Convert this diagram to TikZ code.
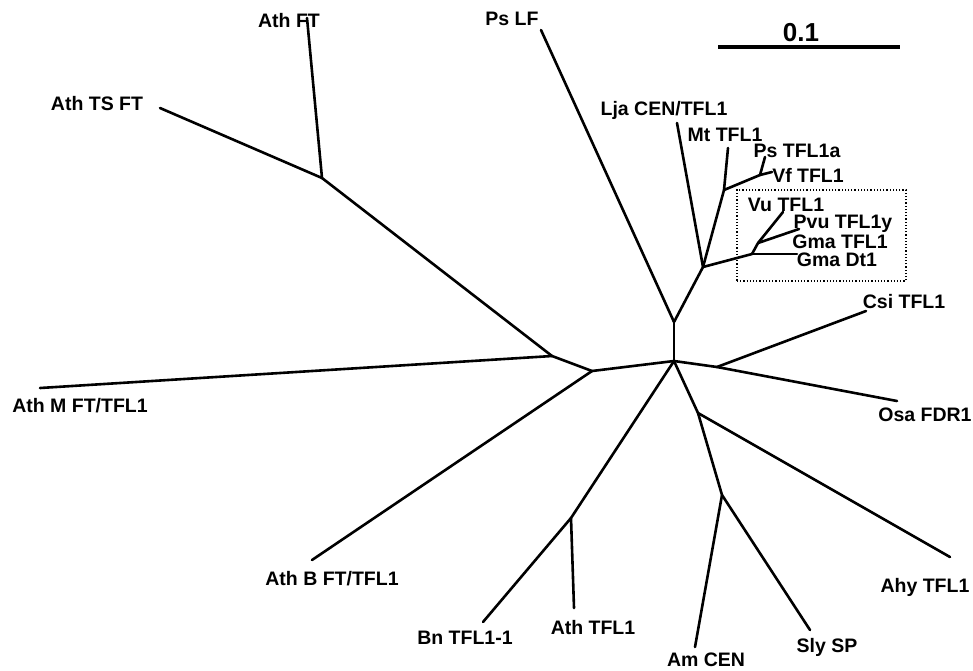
\documentclass[tikz,border=0pt]{standalone}
\usepackage{fontspec}
\setmainfont{Liberation Sans}
\begin{document}
\begin{tikzpicture}[x=1pt,y=-1pt,
  branch/.style={line width=2.6pt,line cap=round,line join=round},
  lbl/.style={font=\fontsize{19.5}{20}\selectfont\bfseries,anchor=base,inner sep=0pt},
  scalelbl/.style={font=\fontsize{26}{28}\selectfont\bfseries,anchor=base,inner sep=0pt},
  scalebar/.style={line width=3.2pt},
  clade/.style={line width=1.2pt,dotted}]
\useasboundingbox (0,0) rectangle (973,670);
% internal points
\coordinate (T) at (674,322);
\coordinate (D) at (674,361);
\coordinate (A) at (703,267);
\coordinate (M1) at (724,190);
\coordinate (N1) at (760,175);
\coordinate (B) at (752,254);
\coordinate (C) at (758,243);
\coordinate (E) at (717,367);
\coordinate (H) at (698,413);
\coordinate (I) at (722,495);
\coordinate (G) at (571,518);
\coordinate (F) at (592,371);
\coordinate (J) at (552,356);
\coordinate (K) at (322,178);
% leaves
\coordinate (lPsLF) at (541,30);
\coordinate (lLja) at (677,123);
\coordinate (lMt) at (728,148);
\coordinate (lPsT) at (765,157);
\coordinate (lVf) at (772,172);
\coordinate (lGma) at (797,254);
\coordinate (lVu) at (783,212);
\coordinate (lPvu) at (799,229);
\coordinate (lCsi) at (866,311);
\coordinate (lOsa) at (897,401);
\coordinate (lAhy) at (950,557);
\coordinate (lAm) at (695,647);
\coordinate (lSly) at (810,630);
\coordinate (lBn) at (483,622);
\coordinate (lAthT) at (574,608);
\coordinate (lAthB) at (312,560);
\coordinate (lAthM) at (40,388);
\coordinate (lAthFT) at (307,18);
\coordinate (lAthTS) at (160,108);
% branches
\draw[branch] (T) -- (D);
\draw[branch] (T) -- (lPsLF);
\draw[branch] (T) -- (A);
\draw[branch] (A) -- (lLja);
\draw[branch] (A) -- (M1);
\draw[branch] (M1) -- (lMt);
\draw[branch] (M1) -- (N1);
\draw[branch] (N1) -- (lPsT);
\draw[branch] (N1) -- (lVf);
\draw[branch] (A) -- (B);
\draw[branch] (B) -- (lGma);
\draw[branch] (B) -- (C);
\draw[branch] (C) -- (lVu);
\draw[branch] (C) -- (lPvu);
\draw[branch] (D) -- (E);
\draw[branch] (E) -- (lCsi);
\draw[branch] (E) -- (lOsa);
\draw[branch] (D) -- (H);
\draw[branch] (H) -- (lAhy);
\draw[branch] (H) -- (I);
\draw[branch] (I) -- (lAm);
\draw[branch] (I) -- (lSly);
\draw[branch] (D) -- (G);
\draw[branch] (G) -- (lBn);
\draw[branch] (G) -- (lAthT);
\draw[branch] (D) -- (F);
\draw[branch] (F) -- (lAthB);
\draw[branch] (F) -- (J);
\draw[branch] (J) -- (lAthM);
\draw[branch] (J) -- (K);
\draw[branch] (K) -- (lAthFT);
\draw[branch] (K) -- (lAthTS);
% clade box
\node[clade,draw,minimum width=169pt,minimum height=91pt,inner sep=0pt] (box) at (821.5,235.5) {};
% labels
\node[lbl] (tAthFT) at (289,27) {Ath FT};
\node[lbl] (tAthTS) at (97,110) {Ath TS FT};
\node[lbl] (tPsLF) at (512,25) {Ps LF};
\node[lbl] (tLja) at (664,115) {Lja CEN/TFL1};
\node[lbl] (tMt) at (725,141) {Mt TFL1};
\node[lbl] (tPsT) at (797,157) {Ps TFL1a};
\node[lbl] (tVf) at (808,182) {Vf TFL1};
\node[lbl] (tVu) at (786,211) {Vu TFL1};
\node[lbl] (tPvu) at (843,228) {Pvu TFL1y};
\node[lbl] (tGmaT) at (840,248) {Gma TFL1};
\node[lbl] (tGmaD) at (837,266) {Gma Dt1};
\node[lbl] (tCsi) at (904,308) {Csi TFL1};
\node[lbl] (tOsa) at (925,421) {Osa FDR1};
\node[lbl] (tAhy) at (925,592) {Ahy TFL1};
\node[lbl] (tSly) at (827,652) {Sly SP};
\node[lbl] (tAm) at (706,666) {Am CEN};
\node[lbl] (tAthT) at (593,634) {Ath TFL1};
\node[lbl] (tBn) at (465,644) {Bn TFL1-1};
\node[lbl] (tAthB) at (332,585) {Ath B FT/TFL1};
\node[lbl] (tAthM) at (80,412) {Ath M FT/TFL1};
% scale bar
\coordinate (sb1) at (718,47);
\coordinate (sb2) at (900,47);
\draw[scalebar] (sb1) -- (sb2);
\node[scalelbl] (tScale) at (801,41) {0.1};
\end{tikzpicture}
\end{document}
